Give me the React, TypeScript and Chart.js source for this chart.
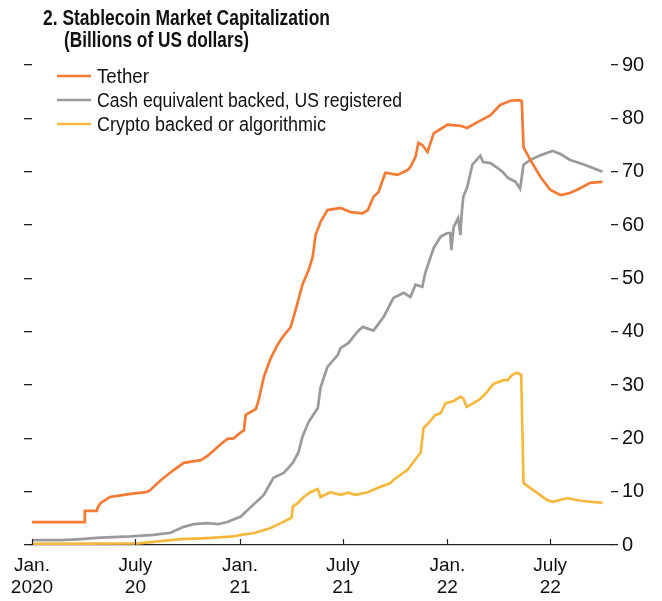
import React, { useEffect, useRef } from "react";
import { Chart, registerables } from "chart.js";

Chart.register(...registerables);

const FONT = "'Liberation Sans', Arial, sans-serif";

const titleLines = ["2. Stablecoin Market Capitalization", "(Billions of US dollars)"];
const seriesNames = ["Tether", "Cash equivalent backed, US registered", "Crypto backed or algorithmic"];
const seriesColors = ["#F47B36", "#9A9A9A", "#F5B83F"];

const xTickDays = [0, 182, 366, 547, 731, 912];
const xTickLabels = [["Jan.", "2020"], ["July", "20"], ["Jan.", "21"], ["July", "21"], ["Jan.", "22"], ["July", "22"]];
const yTicks = [0, 10, 20, 30, 40, 50, 60, 70, 80, 90];

const tetherDates = [
  "2020-01-01", "2020-04-02", "2020-04-03", "2020-04-24", "2020-04-26", "2020-05-01", "2020-05-17",
  "2020-06-05", "2020-06-23", "2020-07-19", "2020-07-25", "2020-08-15", "2020-09-07", "2020-09-24",
  "2020-10-24", "2020-11-05", "2020-11-28", "2020-12-10", "2020-12-21", "2021-01-02", "2021-01-08",
  "2021-01-11", "2021-01-29", "2021-02-03", "2021-02-12", "2021-02-24", "2021-03-08", "2021-03-17",
  "2021-03-31", "2021-04-09", "2021-04-21", "2021-05-02", "2021-05-09", "2021-05-14", "2021-05-23",
  "2021-06-04", "2021-06-27", "2021-07-15", "2021-08-05", "2021-08-14", "2021-08-24", "2021-09-02",
  "2021-09-09", "2021-09-14", "2021-10-05", "2021-10-23", "2021-10-28", "2021-11-06", "2021-11-11",
  "2021-11-18", "2021-11-27", "2021-12-08", "2022-01-01", "2022-01-24", "2022-02-05", "2022-02-23",
  "2022-03-18", "2022-04-04", "2022-04-22", "2022-05-09", "2022-05-12", "2022-05-15", "2022-05-27",
  "2022-06-14", "2022-07-01", "2022-07-19", "2022-08-05", "2022-08-23", "2022-09-09", "2022-10-01",
];
const tetherValues = [
  4.3, 4.3, 6.4, 6.4, 7.1, 7.9, 9.0,
  9.3, 9.6, 9.9, 10.1, 12.2, 14.1, 15.4,
  15.9, 16.7, 18.9, 19.9, 20.0, 21.1, 21.5,
  24.4, 25.5, 27.2, 31.5, 35.0, 37.5, 39.0,
  40.8, 44.1, 48.8, 51.6, 54.0, 58.1, 60.6,
  62.8, 63.2, 62.4, 62.2, 62.8, 65.3, 66.2,
  68.4, 69.8, 69.4, 70.3, 70.9, 72.8, 75.4,
  75.0, 73.7, 77.2, 78.8, 78.6, 78.2, 79.3,
  80.6, 82.5, 83.3, 83.4, 83.2, 74.6, 72.2,
  69.0, 66.6, 65.6, 66.0, 66.9, 67.9, 68.1,
];

const cashDates = [
  "2020-01-01", "2020-02-21", "2020-03-27", "2020-05-01", "2020-06-23", "2020-08-02", "2020-09-01",
  "2020-09-24", "2020-10-12", "2020-11-05", "2020-11-23", "2020-12-10", "2020-12-28", "2021-01-02",
  "2021-01-20", "2021-02-12", "2021-03-01", "2021-03-19", "2021-04-04", "2021-04-14", "2021-04-21",
  "2021-05-02", "2021-05-18", "2021-05-23", "2021-06-04", "2021-06-22", "2021-06-27", "2021-07-11",
  "2021-07-27", "2021-08-05", "2021-08-24", "2021-09-11", "2021-09-28", "2021-10-16", "2021-10-28",
  "2021-11-06", "2021-11-18", "2021-11-23", "2021-12-08", "2021-12-20", "2022-01-01", "2022-01-06",
  "2022-01-08", "2022-01-12", "2022-01-20", "2022-01-24", "2022-01-26", "2022-01-29", "2022-02-05",
  "2022-02-14", "2022-02-28", "2022-03-05", "2022-03-18", "2022-03-30", "2022-04-08", "2022-04-18",
  "2022-05-01", "2022-05-09", "2022-05-15", "2022-05-27", "2022-06-14", "2022-07-05", "2022-07-19",
  "2022-08-05", "2022-08-28", "2022-10-01",
];
const cashValues = [
  0.9, 0.9, 1.1, 1.4, 1.6, 1.9, 2.3,
  3.4, 3.9, 4.1, 3.9, 4.3, 5.1, 5.3,
  7.1, 9.4, 12.6, 13.5, 15.4, 17.4, 20.3,
  23.1, 25.7, 29.6, 33.4, 35.6, 36.9, 37.9,
  40.0, 40.9, 40.2, 42.8, 46.3, 47.3, 46.5,
  48.8, 48.4, 51.0, 55.7, 57.8, 58.5, 58.5,
  55.3, 59.6, 61.3, 58.1, 61.8, 65.3, 67.1,
  71.3, 73.0, 71.8, 71.6, 70.7, 70.0, 68.8,
  68.1, 66.8, 71.3, 72.2, 73.1, 73.9, 73.3,
  72.2, 71.4, 70.0,
];

const cryptoDates = [
  "2020-01-01", "2020-07-05", "2020-08-02", "2020-09-19", "2020-11-05", "2020-12-21", "2021-01-02",
  "2021-01-25", "2021-02-24", "2021-03-14", "2021-03-31", "2021-04-02", "2021-04-04", "2021-04-12",
  "2021-04-23", "2021-05-05", "2021-05-18", "2021-05-23", "2021-06-09", "2021-06-27", "2021-07-11",
  "2021-07-23", "2021-08-14", "2021-09-05", "2021-09-23", "2021-09-28", "2021-10-23", "2021-11-09",
  "2021-11-15", "2021-11-20", "2021-11-29", "2021-12-11", "2021-12-20", "2021-12-29", "2022-01-12",
  "2022-01-24", "2022-01-29", "2022-02-04", "2022-02-16", "2022-02-28", "2022-03-12", "2022-03-23",
  "2022-04-10", "2022-04-17", "2022-04-25", "2022-05-04", "2022-05-11", "2022-05-15", "2022-06-01",
  "2022-06-26", "2022-07-06", "2022-07-31", "2022-08-23", "2022-10-01",
];
const cryptoValues = [
  0.2, 0.3, 0.6, 1.1, 1.3, 1.6, 1.9,
  2.2, 3.2, 4.1, 5.0, 5.2, 7.2, 7.8,
  9.0, 9.9, 10.5, 9.0, 9.9, 9.4, 9.8,
  9.4, 9.9, 10.9, 11.6, 12.2, 14.1, 16.5,
  17.3, 21.9, 22.9, 24.4, 24.7, 26.6, 27.0,
  27.8, 27.5, 25.9, 26.6, 27.4, 28.7, 30.2,
  30.9, 30.9, 31.9, 32.3, 31.9, 11.6, 10.3,
  8.4, 8.1, 8.8, 8.3, 7.9,
];

const BASE = Date.UTC(2020, 0, 1);
function dayOf(s: string): number {
  const [y, m, d] = s.split("-").map(Number);
  return (Date.UTC(y, m - 1, d) - BASE) / 86400000;
}
function toPoints(dates: string[], values: number[]) {
  return dates.map((d, i) => ({ x: dayOf(d), y: values[i] }));
}

// draw text condensed horizontally to a target width (reference uses a narrow face)
function fitText(ctx: CanvasRenderingContext2D, text: string, x: number, y: number, width: number) {
  const w = ctx.measureText(text).width;
  const s = Math.min(1, width / w);
  ctx.save();
  ctx.translate(x, y);
  ctx.scale(s, 1);
  ctx.fillText(text, 0, 0);
  ctx.restore();
}

const titleWidths = [287, 185];
const legendWidths = [52, 305, 229];

const overlayPlugin = {
  id: "overlay",
  afterDraw(chart: any) {
    const ctx = chart.ctx;
    const xs = chart.scales.x;
    const area = chart.chartArea;
    ctx.save();
    ctx.strokeStyle = "#222";
    ctx.lineWidth = 1.2;
    xTickDays.forEach((d) => {
      const px = Math.round(xs.getPixelForValue(d)) + 0.5;
      ctx.beginPath();
      ctx.moveTo(px, area.bottom);
      ctx.lineTo(px, area.bottom - 6);
      ctx.stroke();
    });
    ctx.fillStyle = "#111";
    ctx.textBaseline = "alphabetic";
    ctx.textAlign = "left";
    ctx.font = `bold 21.5px ${FONT}`;
    fitText(ctx, titleLines[0], 43, 24.5, titleWidths[0]);
    fitText(ctx, titleLines[1], 64, 47, titleWidths[1]);
    ctx.font = `20px ${FONT}`;
    seriesNames.forEach((name, i) => {
      const y = 76 + i * 24;
      ctx.strokeStyle = seriesColors[i];
      ctx.lineWidth = 2.7;
      ctx.beginPath();
      ctx.moveTo(57, y);
      ctx.lineTo(91, y);
      ctx.stroke();
      ctx.fillStyle = "#111";
      fitText(ctx, name, 97, y + 7.2, legendWidths[i]);
    });
    ctx.restore();
  },
};

export default function App() {
  const ref = useRef<HTMLCanvasElement | null>(null);
  useEffect(() => {
    if (!ref.current) return;
    const seriesData = [
      toPoints(tetherDates, tetherValues),
      toPoints(cashDates, cashValues),
      toPoints(cryptoDates, cryptoValues),
    ];
    const chart = new Chart(ref.current, {
      type: "line",
      data: {
        datasets: seriesData.map((pts, i) => ({
          label: seriesNames[i],
          data: pts,
          borderColor: seriesColors[i],
          backgroundColor: seriesColors[i],
          borderWidth: 2.7,
          pointRadius: 0,
          tension: 0,
          yAxisID: "y",
        })),
      },
      options: {
        animation: false,
        responsive: true,
        maintainAspectRatio: false,
        layout: { padding: { left: 24, right: 0, top: 65, bottom: 0 } },
        plugins: { legend: { display: false }, tooltip: { enabled: false }, title: { display: false } },
        scales: {
          x: {
            type: "linear",
            min: 0,
            max: 1019,
            afterBuildTicks: (scale: any) => {
              scale.ticks = xTickDays.map((v) => ({ value: v }));
            },
            afterFit: (scale: any) => {
              scale.height = 56;
            },
            grid: { display: true, drawOnChartArea: false, drawTicks: false },
            border: { display: true, color: "#222", width: 1.3 },
            ticks: {
              autoSkip: false,
              maxRotation: 0,
              padding: 9,
              color: "#111",
              font: { family: FONT, size: 19, lineHeight: 1.2 },
              callback: (_v: any, i: number) => xTickLabels[i],
            },
          },
          yl: {
            type: "linear",
            position: "left",
            min: 0,
            max: 90,
            afterBuildTicks: (scale: any) => {
              scale.ticks = yTicks.map((v) => ({ value: v }));
            },
            afterFit: (scale: any) => {
              scale.width = 8;
            },
            grid: { drawOnChartArea: false, drawTicks: true, tickLength: 8, color: "#222", lineWidth: 1.3 },
            border: { display: false },
            ticks: { display: false },
          },
          y: {
            type: "linear",
            position: "right",
            min: 0,
            max: 90,
            afterBuildTicks: (scale: any) => {
              scale.ticks = yTicks.map((v) => ({ value: v }));
            },
            afterFit: (scale: any) => {
              scale.width = 51;
            },
            grid: { drawOnChartArea: false, drawTicks: true, tickLength: 7, color: "#222", lineWidth: 1.3 },
            border: { display: false },
            ticks: {
              padding: 4,
              color: "#111",
              font: { family: FONT, size: 20 },
              callback: (v: any) => String(v),
            },
          },
        },
      },
      plugins: [overlayPlugin],
    });
    return () => chart.destroy();
  }, []);
  return (
    <div style={{ position: "absolute", left: 0, top: 0, width: 662, height: 601 }}>
      <canvas ref={ref} />
    </div>
  );
}
